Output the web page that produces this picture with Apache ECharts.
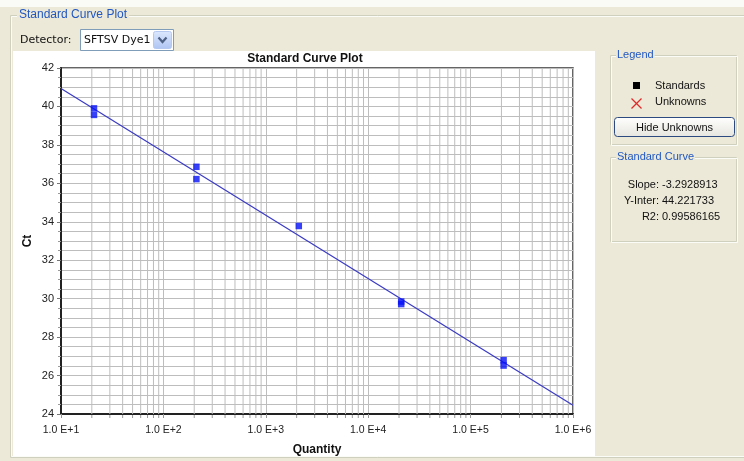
<!DOCTYPE html>
<html>
<head>
<meta charset="utf-8">
<script src="https://cdn.jsdelivr.net/npm/echarts@6/dist/echarts.min.js"></script>
<style>html,body{margin:0;padding:0;background:#ece9d8;}#c{width:744px;height:461px;}</style>
</head>
<body>
<div id="c"></div>
<script>
// ---- data ----
const stdQty = [21, 21, 210, 210, 2100, 21000, 21000, 210000, 210000];
const stdCt  = [39.90, 39.56, 36.86, 36.22, 33.78, 29.85, 29.72, 26.80, 26.52];
const fitQty = [10, 1000000];
const fitCt  = [40.93, 24.46];
const xTickValues = [10, 100, 1000, 10000, 100000, 1000000];
const xTickLabels = ['1.0 E+1', '1.0 E+2', '1.0 E+3', '1.0 E+4', '1.0 E+5', '1.0 E+6'];
const minorMultipliers = [2, 3, 4, 5, 6, 7, 8, 9];
const curveLabels = ['Slope:', 'Y-Inter:', 'R2:'];
const curveValues = ['-3.2928913', '44.221733', '0.99586165'];

const minorX = [];
xTickValues.slice(0, -1).forEach(d => minorMultipliers.forEach(m => minorX.push([d * m, 24])));

const FONT = 'Liberation Sans, Arial, sans-serif';
const UIFONT = 'DejaVu Sans, sans-serif';
const BEIGE = '#ece9d8';
const BOX = '#d0d0bf';
const BLUE_T = '#2157c2';

const chart = echarts.init(document.getElementById('c'), null, {renderer: 'canvas'});

const curveTexts = [];
curveLabels.forEach((l, i) => {
  const y = 185 + i * 16;
  curveTexts.push({type: 'text', x: 659, y: y, z: 5, style: {text: l, font: '11px ' + FONT, fill: '#111', align: 'right', verticalAlign: 'middle'}});
  curveTexts.push({type: 'text', x: 662, y: y, z: 5, style: {text: curveValues[i], font: '11px ' + FONT, fill: '#111', align: 'left', verticalAlign: 'middle'}});
});

const option = {
  backgroundColor: BEIGE,
  animation: false,
  grid: {left: 61, top: 68, width: 512, height: 347, show: true, backgroundColor: 'transparent', borderColor: '#333', borderWidth: 1.5},
  xAxis: {
    type: 'log', logBase: 10, min: 10, max: 1000000,
    name: 'Quantity', nameLocation: 'middle', nameGap: 30,
    nameTextStyle: {fontFamily: FONT, fontSize: 12, fontWeight: 'bold', color: '#111'},
    axisLine: {show: true, lineStyle: {color: '#222', width: 2}},
    axisTick: {show: true, length: 4, lineStyle: {color: '#999'}},
    axisLabel: {margin: 11, fontFamily: FONT, fontSize: 10.5, color: '#222',
      formatter: v => { const i = xTickValues.findIndex(t => Math.abs(t - v) / t < 1e-6); return i >= 0 ? xTickLabels[i] : ''; }},
    splitLine: {show: true, lineStyle: {color: '#bdbdbd', width: 1}}
  },
  yAxis: {
    type: 'value', min: 24, max: 42, interval: 2,
    name: 'Ct', nameLocation: 'middle', nameGap: 27, nameMoveOverlap: false,
    nameTextStyle: {fontFamily: FONT, fontSize: 12, fontWeight: 'bold', color: '#111'},
    axisLine: {show: true, lineStyle: {color: '#222', width: 2}},
    axisTick: {show: true, length: 4, lineStyle: {color: '#777'}},
    minorTick: {show: true, splitNumber: 4, length: 3, lineStyle: {color: '#999'}},
    axisLabel: {margin: 7, fontFamily: FONT, fontSize: 11, color: '#222'},
    splitLine: {show: true, lineStyle: {color: '#bdbdbd', width: 1}},
    minorSplitLine: {show: true, lineStyle: {color: '#bdbdbd', width: 1}}
  },
  series: [
    {
      type: 'custom', z: 1, clip: false, silent: true,
      data: minorX,
      encode: {x: 0, y: 1},
      renderItem: (params, api) => {
        const x = api.value(0);
        const top = api.coord([x, 42]);
        const bot = api.coord([x, 24]);
        return {type: 'group', children: [
          {type: 'line', shape: {x1: top[0], y1: top[1], x2: bot[0], y2: bot[1]}, style: {stroke: '#bdbdbd', lineWidth: 1}},
          {type: 'line', shape: {x1: bot[0], y1: bot[1] + 1, x2: bot[0], y2: bot[1] + 4}, style: {stroke: '#999', lineWidth: 1}}
        ]};
      }
    },
    {
      type: 'line', z: 3, data: fitQty.map((q, i) => [q, fitCt[i]]),
      showSymbol: false, lineStyle: {color: '#3a3ac4', width: 1.2}, silent: true
    },
    {
      type: 'scatter', z: 4, name: 'Standards', data: stdQty.map((q, i) => [q, stdCt[i]]),
      symbol: 'rect', symbolSize: 6.5, itemStyle: {color: '#0610f5'}
    }
  ],
  graphic: [
    {type: 'rect', z: -20, shape: {x: 0, y: 0, width: 744, height: 7}, style: {fill: '#fafaf7'}},
    {type: 'rect', z: -19, shape: {x: 10.5, y: 15.5, width: 745, height: 442}, style: {fill: 'none', stroke: BOX, lineWidth: 1}},
    {type: 'rect', z: -19, shape: {x: 11.5, y: 16.5, width: 745, height: 440}, style: {fill: 'none', stroke: '#fbfbf8', lineWidth: 1}},
    {type: 'text', z: 5, x: 17, y: 15, style: {text: 'Standard Curve Plot', font: '12px ' + FONT, fill: BLUE_T, verticalAlign: 'middle', backgroundColor: BEIGE, padding: [0, 2]}},
    {type: 'rect', z: -18, shape: {x: 13, y: 51, width: 582, height: 405}, style: {fill: '#ffffff'}},
    {type: 'text', z: 5, x: 20, y: 40, style: {text: 'Detector:', font: '11px ' + UIFONT, fill: '#111', verticalAlign: 'middle'}},
    {type: 'rect', z: 5, shape: {x: 80.5, y: 29.5, width: 93, height: 21}, style: {fill: '#ffffff', stroke: '#7f9db9', lineWidth: 1}},
    {type: 'text', z: 6, x: 84, y: 40, style: {text: 'SFTSV Dye1', font: '11px ' + UIFONT, fill: '#111', verticalAlign: 'middle'}},
    {type: 'rect', z: 6, shape: {x: 153.5, y: 31.5, width: 18, height: 17, r: 2}, style: {fill: new echarts.graphic.LinearGradient(0, 0, 0, 1, [{offset: 0, color: '#dde8fd'}, {offset: 1, color: '#aec4f3'}]), stroke: '#b5c8f0', lineWidth: 1}},
    {type: 'polyline', z: 7, shape: {points: [[158.5, 37.5], [162.5, 42], [166.5, 37.5]]}, style: {stroke: '#4d6185', lineWidth: 2.2, fill: 'none'}},
    {type: 'text', z: 5, x: 305, y: 59, style: {text: 'Standard Curve Plot', font: 'bold 12px ' + FONT, fill: '#111', align: 'center', verticalAlign: 'middle'}},
    // Legend box
    {type: 'rect', z: 4, shape: {x: 610.5, y: 55.5, width: 126, height: 89}, style: {fill: 'none', stroke: BOX, lineWidth: 1}},
    {type: 'rect', z: 4, shape: {x: 611.5, y: 56.5, width: 126, height: 89}, style: {fill: 'none', stroke: '#fbfbf8', lineWidth: 1}},
    {type: 'text', z: 5, x: 616, y: 55, style: {text: 'Legend', font: '11px ' + FONT, fill: BLUE_T, verticalAlign: 'middle', backgroundColor: BEIGE, padding: [0, 1]}},
    {type: 'rect', z: 5, shape: {x: 633, y: 82, width: 7, height: 7}, style: {fill: '#000'}},
    {type: 'text', z: 5, x: 655, y: 85.5, style: {text: 'Standards', font: '11px ' + FONT, fill: '#111', verticalAlign: 'middle'}},
    {type: 'line', z: 5, shape: {x1: 631.5, y1: 98.5, x2: 641.5, y2: 108.5}, style: {stroke: '#e02a2a', lineWidth: 1.3}},
    {type: 'line', z: 5, shape: {x1: 641.5, y1: 98.5, x2: 631.5, y2: 108.5}, style: {stroke: '#e02a2a', lineWidth: 1.3}},
    {type: 'text', z: 5, x: 655, y: 102, style: {text: 'Unknowns', font: '11px ' + FONT, fill: '#111', verticalAlign: 'middle'}},
    {type: 'rect', z: 5, shape: {x: 614.5, y: 117.5, width: 120, height: 19, r: 3}, style: {fill: new echarts.graphic.LinearGradient(0, 0, 0, 1, [{offset: 0, color: '#ffffff'}, {offset: 1, color: '#e6e5de'}]), stroke: '#2c4a80', lineWidth: 1}},
    {type: 'text', z: 6, x: 674.5, y: 127.5, style: {text: 'Hide Unknowns', font: '11px ' + FONT, fill: '#111', align: 'center', verticalAlign: 'middle'}},
    // Standard curve box
    {type: 'rect', z: 4, shape: {x: 610.5, y: 157.5, width: 126, height: 84}, style: {fill: 'none', stroke: BOX, lineWidth: 1}},
    {type: 'rect', z: 4, shape: {x: 611.5, y: 158.5, width: 126, height: 84}, style: {fill: 'none', stroke: '#fbfbf8', lineWidth: 1}},
    {type: 'text', z: 5, x: 616, y: 157, style: {text: 'Standard Curve', font: '11px ' + FONT, fill: BLUE_T, verticalAlign: 'middle', backgroundColor: BEIGE, padding: [0, 1]}}
  ].concat(curveTexts)
};
chart.setOption(option);
</script>
</body>
</html>
